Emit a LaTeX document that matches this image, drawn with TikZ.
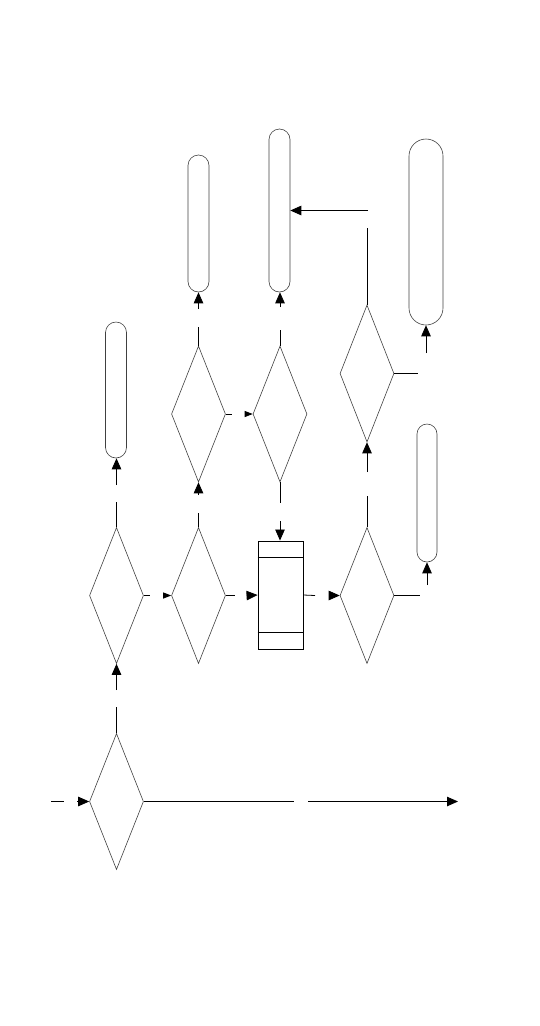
\documentclass[tikz,border=0pt]{standalone}
\usepackage{tikz}
\usetikzlibrary{arrows.meta, shapes.geometric}

\begin{document}
\begin{tikzpicture}[x=1pt, y=-1pt, >={Triangle[length=11pt,width=9.5pt]},
    decision/.style={diamond, draw=black!75, line width=0.6pt, inner sep=0pt, minimum width=54pt, minimum height=136pt},
    terminal/.style={rectangle, draw=black!75, line width=0.6pt, inner sep=0pt, minimum width=21pt, rounded corners=10.5pt},
    process/.style={rectangle, draw, line width=0.9pt, inner sep=0pt, minimum width=45pt, minimum height=108pt},
    flow/.style={line width=0.8pt},
    shortarrow/.style={>={Triangle[length=8pt,width=6pt]}}]
    \useasboundingbox (0,0) rectangle (540,1026);

    % Decisions
    \node[decision] (d1) at (116.5,801.5) {};
    \node[decision] (d2) at (116.5,595.5) {};
    \node[decision] (d3) at (198.5,595.5) {};
    \node[decision] (d6) at (367,595.5) {};
    \node[decision] (d4) at (198.5,414) {};
    \node[decision] (d5) at (280,414) {};
    \node[decision, minimum height=137pt] (d7) at (367,373.5) {};

    % Process box
    \node[process] (box) at (280.5,595) {};
    \draw[line width=0.9pt] ([yshift=-17pt]box.north west) -- ([yshift=-17pt]box.north east);
    \draw[line width=0.9pt] ([yshift=17pt]box.south west) -- ([yshift=17pt]box.south east);

    % Terminals
    \node[terminal, minimum height=136pt] (t1) at (116,390) {};
    \node[terminal, minimum height=137pt] (t2) at (198.5,223.5) {};
    \node[terminal, minimum height=163pt] (t3) at (279.5,210.5) {};
    \node[terminal, minimum height=138pt, minimum width=20pt, rounded corners=10pt] (t5) at (427,493) {};
    \node[terminal, minimum height=186pt, minimum width=34pt, rounded corners=17pt] (t6) at (426,232) {};

    % Entry and exit
    \coordinate (in) at (51,801.5);
    \coordinate (ina) at (64,801.5);
    \coordinate (inb) at (77,801.5);
    \draw[flow] (in) -- (ina);
    \draw[flow,->] (inb) -- (d1.west);
    \coordinate (outa) at (294,801.5);
    \coordinate (outb) at (308,801.5);
    \coordinate (out) at (458,801.5);
    \draw[flow] (d1.east) -- (outa);
    \draw[flow,->] (outb) -- (out);

    % Lower row
    \coordinate (d1a) at (116.5,707);
    \coordinate (d1b) at (116.5,690);
    \draw[flow] (d1.north) -- (d1a);
    \draw[flow,->] (d1b) -- (d2.south);
    \coordinate (d2a) at (116.5,502);
    \coordinate (d2b) at (116.5,485);
    \draw[flow] (d2.north) -- (d2a);
    \draw[flow,->] (d2b) -- (d2b |- t1.south);
    \coordinate (d2c) at (150,595.5);
    \coordinate (d2d) at (163,595.5);
    \draw[flow] (d2.east) -- (d2c);
    \draw[flow,shortarrow,->] (d2d) -- (d3.west);
    \coordinate (d3a) at (235,595.5);
    \coordinate (d3b) at (248,595.5);
    \draw[flow] (d3.east) -- (d3a);
    \draw[flow,->] (d3b) -- (box.west);
    \coordinate (d3c) at (198.5,513);
    \coordinate (d3d) at (198.5,495);
    \draw[flow] (d3.north) -- (d3c);
    \draw[flow,->] (d3d) -- (d4.south);
    \coordinate (boxa) at (315,595.5);
    \coordinate (boxb) at (329,595.5);
    \draw[flow] (box.east) -- (boxa);
    \draw[flow,->] (boxb) -- (d6.west);
    \coordinate (d6a) at (367,496);
    \coordinate (d6b) at (367,472);
    \draw[flow] (d6.north) -- (d6a);
    \draw[flow,->] (d6b) -- (d7.south);
    \coordinate (d6c) at (420,595.5);
    \coordinate (d6d) at (427,585);
    \draw[flow] (d6.east) -- (d6c);
    \draw[flow,->] (d6d) -- (t5.south);

    % Upper row
    \coordinate (d4a) at (198.5,327);
    \coordinate (d4b) at (198.5,309);
    \draw[flow] (d4.north) -- (d4a);
    \draw[flow,->] (d4b) -- (t2.south);
    \coordinate (d4c) at (232,414);
    \coordinate (d4d) at (246,414);
    \draw[flow] (d4.east) -- (d4c);
    \draw[flow,shortarrow,->] (d4d) -- (d5.west);
    \coordinate (d5a) at (280,330);
    \coordinate (d5b) at (280,307);
    \draw[flow] (d5.north) -- (d5a);
    \draw[flow,->] (d5b) -- (d5b |- t3.south);
    \coordinate (d5c) at (280,503);
    \coordinate (d5d) at (280,521);
    \draw[flow] (d5.south) -- (d5c);
    \draw[flow,->] (d5d) -- (d5d |- box.north);
    \coordinate (d7a) at (418,373.5);
    \coordinate (d7b) at (426,353);
    \draw[flow] (d7.east) -- (d7a);
    \draw[flow,->] (d7b) -- (t6.south);
    \coordinate (d7c) at (367,228);
    \coordinate (d7d) at (368,210.5);
    \draw[flow] (d7.north) -- (d7c);
    \draw[flow,->] (d7d) -- (t3.east);
\end{tikzpicture}
\end{document}
